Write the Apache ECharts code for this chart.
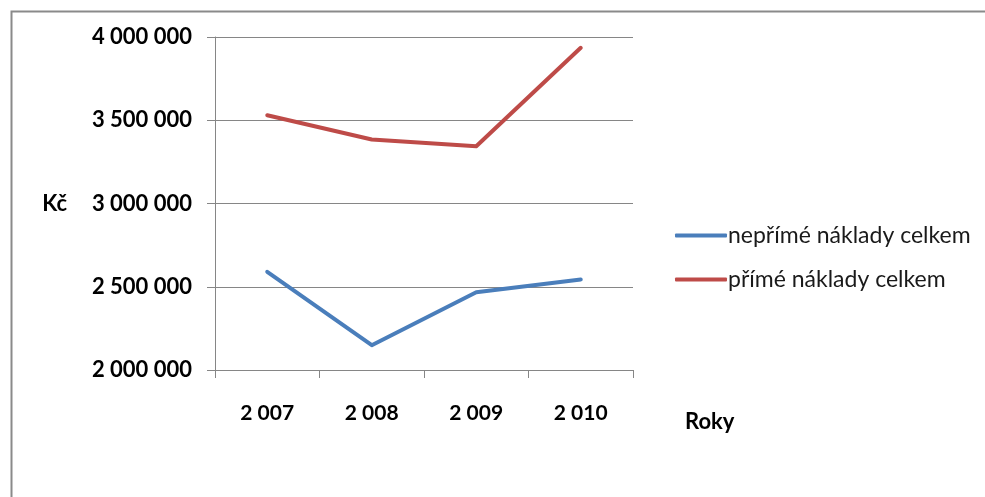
<!DOCTYPE html>
<html>
<head>
<meta charset="utf-8">
<style>
  html, body { margin: 0; padding: 0; background: #fff; }
  #chart { width: 985px; height: 497px; }
</style>
<script src="https://cdn.jsdelivr.net/npm/echarts@6/dist/echarts.min.js"></script>
</head>
<body>
<div id="chart"></div>
<script>
// Years on the category axis
const years = ['2007', '2008', '2009', '2010'];
// Indirect costs total (Kč)
const neprimeNaklady = [2590000, 2149000, 2467000, 2543000];
// Direct costs total (Kč)
const primeNaklady = [3530000, 3384000, 3344000, 3935000];
// Value axis range and step
const yMin = 2000000;
const yMax = 4000000;
const yStep = 500000;

const FONT = 'Lato, "Open Sans", sans-serif';
const AXIS_GRAY = '#868686';

// "4 000 000" style grouping with spaces
function groupDigits(v) {
  return String(Math.round(v)).replace(/\B(?=(\d{3})+(?!\d))/g, ' ');
}

const chart = echarts.init(document.getElementById('chart'), null, { renderer: 'canvas' });

chart.setOption({
  animation: false,
  backgroundColor: '#ffffff',
  textStyle: { fontFamily: FONT },
  grid: { left: 215, right: 352, top: 37, bottom: 127, containLabel: false },
  legend: {
    orient: 'vertical',
    left: 670,
    top: 219,
    itemWidth: 52,
    itemHeight: 4,
    itemGap: 21,
    icon: 'roundRect',
    textStyle: { fontFamily: FONT, fontSize: 23, color: '#1a1a1a', padding: [0, 0, 0, -4] },
    data: ['nepřímé náklady celkem', 'přímé náklady celkem']
  },
  xAxis: {
    type: 'category',
    data: years,
    boundaryGap: true,
    axisLine: { show: true, lineStyle: { color: AXIS_GRAY, width: 1 } },
    axisTick: { show: true, length: 8, inside: false, lineStyle: { color: AXIS_GRAY } },
    axisLabel: {
      margin: 33,
      fontFamily: FONT,
      fontSize: 21,
      fontWeight: 'bold',
      color: '#000',
      formatter: function (v) { return groupDigits(Number(v)); }
    },
    splitLine: { show: false }
  },
  yAxis: {
    type: 'value',
    min: yMin,
    max: yMax,
    interval: yStep,
    name: 'Kč',
    nameLocation: 'middle',
    nameRotate: 0,
    nameGap: 148,
    nameTextStyle: { fontFamily: FONT, fontSize: 22, fontWeight: 'bold', color: '#000' },
    axisLine: { show: true, lineStyle: { color: AXIS_GRAY, width: 1 } },
    axisTick: { show: true, length: 8, lineStyle: { color: AXIS_GRAY } },
    axisLabel: {
      margin: 23,
      fontFamily: FONT,
      fontSize: 22,
      fontWeight: 'bold',
      color: '#000',
      formatter: groupDigits
    },
    splitLine: { show: true, lineStyle: { color: AXIS_GRAY, width: 1 } }
  },
  series: [
    {
      name: 'nepřímé náklady celkem',
      type: 'line',
      data: neprimeNaklady,
      symbol: 'none',
      smooth: false,
      itemStyle: { color: '#4A7EBB' },
      lineStyle: { color: '#4A7EBB', width: 4, cap: 'round', join: 'round' }
    },
    {
      name: 'přímé náklady celkem',
      type: 'line',
      data: primeNaklady,
      symbol: 'none',
      smooth: false,
      itemStyle: { color: '#BE4B48' },
      lineStyle: { color: '#BE4B48', width: 4, cap: 'round', join: 'round' }
    }
  ],
  graphic: [
    {
      // chart frame (continues past the right and bottom edges)
      type: 'rect',
      left: 9,
      top: 9,
      shape: { x: 0, y: 0, width: 1000, height: 520 },
      style: { fill: 'none', stroke: '#8a8a8a', lineWidth: 2 },
      silent: true,
      z: -1
    },
    {
      // x-axis title
      type: 'text',
      left: 685,
      top: 411,
      style: {
        text: 'Roky',
        fontFamily: FONT,
        fontSize: 22,
        fontWeight: 'bold',
        fill: '#000'
      }
    }
  ]
});
</script>
</body>
</html>
